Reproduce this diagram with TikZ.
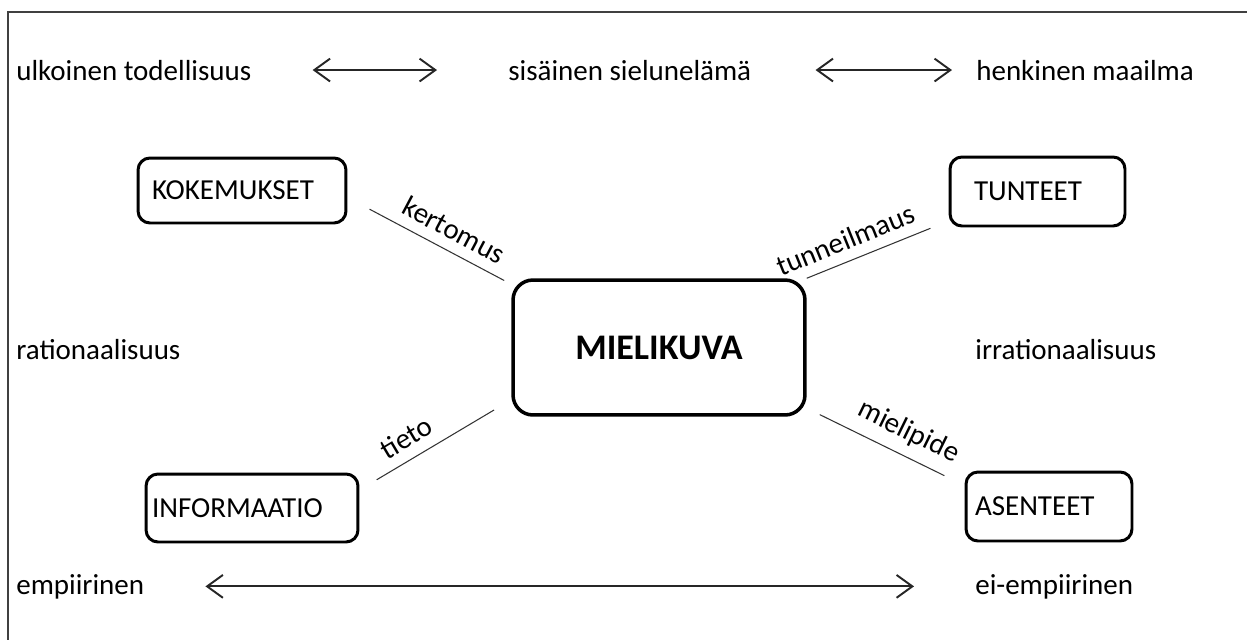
\documentclass[tikz,border=0pt]{standalone}
\usepackage{fontspec}
\setmainfont{Carlito}
\usetikzlibrary{arrows.meta}

\tikzset{
  txt/.style={inner sep=0pt, anchor=base west},
  box/.style={draw, line width=1.7pt, rounded corners=0.24cm, align=left},
  mainbox/.style={draw, line width=2pt, rounded corners=0.4cm, align=center,
    font=\fontsize{20.5}{24}\selectfont\bfseries},
  link/.style={line width=0.6pt, black!80},
  lbl/.style={sloped, above=6pt, inner sep=0pt, black},
  arr/.style={<->, line width=1.1pt, black!85},
  frame/.style={line width=1.2pt, black!75}
}

\begin{document}
\begin{tikzpicture}[x=0.02cm, y=-0.02cm, font=\fontsize{16.5}{19}\selectfont,
    >={Straight Barb[length=9pt,width=13pt]}]
  \useasboundingbox (0,0) rectangle (1247,639);
  \draw[frame] (8,12) rectangle (1300,700);

  % dimensions
  \node[txt] (ulk) at (16,80) {ulkoinen todellisuus};
  \node[txt] (sis) at (508,80) {sisäinen sielunelämä};
  \node[txt] (hen) at (976,80) {henkinen maailma};
  \node[txt] (rat) at (16,359) {rationaalisuus};
  \node[txt] (irr) at (975,359) {irrationaalisuus};
  \node[txt] (emp) at (16,594) {empiirinen};
  \node[txt] (eie) at (975,594) {ei-empiirinen};

  % boxes
  \node[box, minimum height=1.3cm, text width=3.6cm, inner xsep=0.28cm] (kok) at (242,190.5) {KOKEMUKSET};
  \node[box, minimum height=1.38cm, text width=2.54cm, inner xsep=0.48cm] (tun) at (1037.5,191.5) {TUNTEET};
  \node[box, minimum height=1.36cm, text width=4.0cm, inner xsep=0.12cm] (inf) at (252,508) {INFORMAATIO};
  \node[box, minimum height=1.38cm, text width=2.96cm, inner xsep=0.18cm] (ase) at (1049,506.5) {ASENTEET};
  \node[mainbox, minimum width=5.84cm, minimum height=2.7cm] (mie) at (659,347.5) {MIELIKUVA};

  % links to the centre
  \draw[link, shorten <=0.5cm, shorten >=0.16cm] ([yshift=-0.14cm]kok.east) -- ([yshift=-0.12cm]mie.north west)
    node[lbl, pos=0.59] {kertomus};
  \draw[link, shorten >=0.39cm] (mie.north east) -- ([yshift=0.13cm]tun.south west)
    node[lbl, pos=0.33] {tunneilmaus};
  \draw[link, shorten <=0.4cm, shorten >=0.4cm] ([yshift=0.36cm]inf.east) -- ([yshift=0.34cm]mie.south west)
    node[lbl, pos=0.38] {tieto};
  \draw[link, shorten <=0.29cm, shorten >=0.45cm] ([yshift=0.17cm]mie.south east) -- ([yshift=-0.3cm]ase.north west)
    node[lbl, pos=0.58] {mielipide};

  % axes
  \draw[arr, shorten <=1.22cm, shorten >=1.42cm] (ulk.east) -- (sis.west);
  \draw[arr, shorten <=1.28cm, shorten >=0.48cm] (sis.east) -- (hen.west);
  \draw[arr, shorten <=1.22cm, shorten >=1.22cm] (emp.east) -- (eie.west);
\end{tikzpicture}
\end{document}
